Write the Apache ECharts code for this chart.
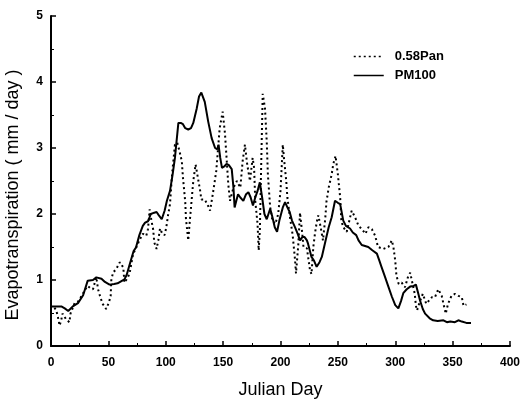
<!DOCTYPE html>
<html>
<head>
<meta charset="utf-8">
<script src="https://cdn.jsdelivr.net/npm/echarts@6/dist/echarts.min.js"></script>
<style>
  html, body { margin: 0; padding: 0; background: #fff; }
  #chart { width: 521px; height: 404px; }
</style>
</head>
<body>
<div id="chart"></div>
<script>
// PM100 (solid line)
const pmDays = [0, 5, 9, 12, 15, 19, 23.5, 28, 32, 36.6, 39.5, 44, 47, 51, 55, 58, 64, 66, 68.6, 72, 74, 77, 80, 82, 84.5, 87, 90, 92, 94, 96.5, 99, 101, 103.7, 106, 108, 111, 113, 115, 117, 119.6, 122, 124, 127, 129, 131, 132.5, 134, 137, 140, 143, 145, 146, 147.5, 149, 151, 153, 155, 157.5, 159, 160, 161.5, 163, 165, 167.6, 170, 172, 174, 176, 178, 180, 182, 184, 186, 188, 189.5, 191, 193, 195, 197, 199, 202, 204, 206, 208, 210, 212.6, 215, 217, 219, 221, 223, 224, 227, 229, 231.5, 234, 236, 238, 240, 242, 244.6, 247.5, 250, 252, 254.7, 257, 260.6, 263, 266, 268, 270.8, 273, 276.5, 280, 284, 286, 288, 291, 294, 297, 300, 302.7, 305, 307, 310, 313, 316, 318, 320, 321.6, 324, 326, 330, 333, 337, 342, 345, 348, 352, 355, 358, 362, 366]
const pmValues = [0.6, 0.6, 0.6, 0.57, 0.53, 0.6, 0.65, 0.77, 0.99, 1.0, 1.04, 1.02, 0.97, 0.93, 0.94, 0.95, 1.01, 1.08, 1.24, 1.44, 1.49, 1.68, 1.82, 1.87, 1.89, 2.0, 2.02, 2.03, 1.98, 1.92, 2.05, 2.2, 2.35, 2.6, 2.85, 3.38, 3.38, 3.36, 3.3, 3.28, 3.3, 3.38, 3.6, 3.78, 3.84, 3.82, 3.7, 3.4, 3.15, 3.0, 2.98, 3.05, 2.85, 2.7, 2.72, 2.76, 2.74, 2.68, 2.4, 2.1, 2.2, 2.3, 2.25, 2.2, 2.3, 2.33, 2.25, 2.13, 2.25, 2.35, 2.48, 2.25, 2.0, 1.92, 2.0, 2.08, 1.95, 1.8, 1.73, 1.9, 2.1, 2.18, 2.1, 2.03, 1.9, 1.8, 1.7, 1.6, 1.65, 1.65, 1.6, 1.55, 1.35, 1.3, 1.2, 1.27, 1.35, 1.5, 1.65, 1.8, 1.95, 2.2, 2.17, 2.15, 1.9, 1.82, 1.78, 1.72, 1.68, 1.6, 1.53, 1.52, 1.5, 1.45, 1.4, 1.3, 1.2, 1.05, 0.9, 0.75, 0.62, 0.57, 0.68, 0.8, 0.86, 0.9, 0.91, 0.93, 0.8, 0.69, 0.56, 0.49, 0.42, 0.39, 0.38, 0.39, 0.36, 0.37, 0.36, 0.39, 0.37, 0.35, 0.35]

// 0.58Pan (dotted line)
const panDays = [3, 4.6, 6, 7.5, 9, 10, 11.5, 13, 14.5, 16, 17, 19, 20.6, 24, 28, 30, 32, 34, 36.6, 38, 39.5, 41, 43, 45, 48, 50.5, 52, 52.5, 54, 57, 60, 61, 63, 64, 67, 68.6, 71.5, 74, 77, 80, 83, 84.5, 86, 87.5, 89, 90, 92, 93.5, 95, 97, 99, 100.5, 102, 103.7, 105.5, 108, 110, 112, 114, 115, 117, 117.6, 119.6, 121, 122.5, 124, 126, 128, 130, 131, 134, 137, 138.6, 141, 144, 147, 149.6, 151.6, 153, 154.5, 156, 159, 162, 165, 167, 169, 171, 173.4, 175.7, 177, 178, 180, 181, 182, 183, 184.5, 186.5, 188, 189, 191, 193, 195.5, 198, 200, 202, 203, 205, 206, 208, 210.6, 212.6, 213.5, 215.5, 217, 219, 220, 223, 225.7, 227, 228.6, 230, 231.6, 233, 235, 237, 239, 240, 242, 244.6, 246, 248, 250, 252, 253, 254.7, 257.7, 260, 262, 265, 268, 271, 274, 276.7, 279.6, 282.5, 285, 289.6, 294, 297, 298.4, 300, 301, 303, 305.6, 308.5, 311, 313, 315, 317, 318, 319, 321, 324, 327, 332, 334.6, 337.5, 340.5, 342, 344, 346, 349, 352, 355, 358, 359.5, 362]
const panValues = [0.58, 0.54, 0.44, 0.31, 0.4, 0.49, 0.45, 0.41, 0.38, 0.36, 0.49, 0.58, 0.65, 0.68, 0.8, 0.86, 0.91, 0.88, 0.86, 0.95, 1.04, 0.86, 0.74, 0.64, 0.56, 0.66, 0.76, 0.99, 1.11, 1.17, 1.27, 1.29, 1.19, 0.96, 1.04, 1.11, 1.39, 1.48, 1.6, 1.7, 1.67, 1.77, 2.07, 1.9, 1.77, 1.57, 1.47, 1.6, 1.78, 1.7, 1.68, 1.8, 1.98, 2.15, 2.6, 3.05, 3.08, 2.95, 2.8, 2.55, 2.18, 1.93, 1.6, 1.9, 2.2, 2.5, 2.75, 2.55, 2.35, 2.22, 2.22, 2.12, 2.05, 2.3, 2.65, 3.3, 3.55, 3.22, 2.85, 2.45, 2.2, 2.4, 2.5, 2.4, 2.8, 3.05, 2.75, 2.5, 2.85, 2.7, 2.2, 1.85, 1.45, 1.75, 2.6, 3.82, 3.6, 3.1, 2.6, 2.1, 1.9, 1.85, 2.0, 2.35, 3.05, 2.85, 2.5, 2.25, 1.98, 1.68, 1.32, 1.1, 1.53, 2.02, 1.7, 1.5, 1.48, 1.15, 1.09, 1.5, 1.7, 1.88, 1.98, 1.8, 1.6, 1.93, 2.18, 2.4, 2.6, 2.76, 2.88, 2.6, 2.25, 1.9, 1.8, 1.73, 1.9, 2.05, 1.95, 1.82, 1.77, 1.7, 1.8, 1.77, 1.67, 1.5, 1.47, 1.5, 1.6, 1.5, 1.29, 1.07, 0.94, 0.96, 0.89, 1.04, 1.11, 0.95, 0.79, 0.61, 0.54, 0.65, 0.79, 0.64, 0.74, 0.74, 0.86, 0.76, 0.64, 0.49, 0.64, 0.76, 0.79, 0.76, 0.74, 0.61, 0.63]

const xTicks = [0, 50, 100, 150, 200, 250, 300, 350, 400]
const yTicks = [0, 1, 2, 3, 4, 5]

const FONT = 'Liberation Sans'
const zip = (xs, ys) => xs.map((x, i) => [x, ys[i]])

const chart = echarts.init(document.getElementById('chart'), null, { renderer: 'canvas' })

const axisCommon = {
  axisLine: { lineStyle: { color: '#000', width: 2 } },
  axisTick: { inside: true, length: 5, lineStyle: { color: '#000', width: 1.5 } },
  minorTick: { show: true, splitNumber: 2, length: 3, lineStyle: { color: '#000', width: 1 } },
  splitLine: { show: false },
  axisLabel: { color: '#000', fontFamily: FONT, fontWeight: 'bold', fontSize: 12 },
  nameTextStyle: { color: '#000', fontFamily: FONT, fontSize: 18 },
}

chart.setOption({
  animation: false,
  backgroundColor: '#fff',
  grid: { left: 51, right: 11, top: 16, bottom: 58, outerBoundsMode: 'none', containLabel: false },
  legend: {
    orient: 'vertical',
    left: 348,
    top: 45,
    itemWidth: 30,
    itemHeight: 10,
    itemGap: 6,
    itemStyle: { opacity: 0 },
    lineStyle: { width: 1.5 },
    textStyle: { color: '#000', fontFamily: FONT, fontWeight: 'bold', fontSize: 13, padding: [0, 0, 0, 6] },
    data: ['0.58Pan', 'PM100'],
  },
  xAxis: {
    type: 'value',
    min: xTicks[0],
    max: xTicks[xTicks.length - 1],
    interval: 50,
    name: 'Julian Day',
    nameLocation: 'middle',
    nameGap: 35,
    ...axisCommon,
    axisLabel: { ...axisCommon.axisLabel, margin: 11 },
  },
  yAxis: {
    type: 'value',
    min: yTicks[0],
    max: yTicks[yTicks.length - 1],
    interval: 1,
    name: 'Evapotranspiration ( mm / day )',
    nameLocation: 'middle',
    nameGap: 29,
    ...axisCommon,
    axisLabel: { ...axisCommon.axisLabel, margin: 8 },
    nameTextStyle: { ...axisCommon.nameTextStyle, padding: [0, 28, 0, 0] },
  },
  series: [
    {
      name: '0.58Pan',
      type: 'line',
      symbol: 'none',
      data: zip(panDays, panValues),
      lineStyle: { color: '#000', width: 2, type: [2, 3], cap: 'butt' },
      itemStyle: { color: '#000' },
    },
    {
      name: 'PM100',
      type: 'line',
      symbol: 'none',
      data: zip(pmDays, pmValues),
      lineStyle: { color: '#000', width: 2 },
      itemStyle: { color: '#000' },
    },
  ],
})
</script>
</body>
</html>
